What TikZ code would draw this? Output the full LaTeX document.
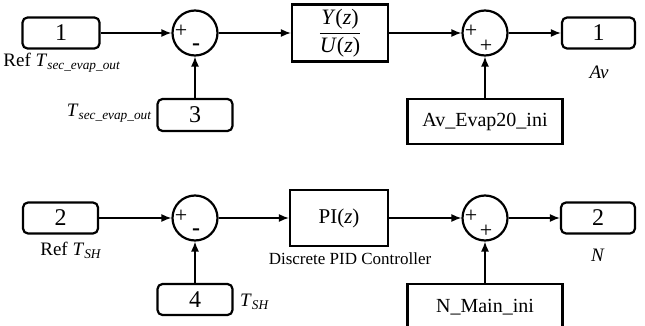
\documentclass[tikz,border=0pt]{standalone}
\usepackage{fontspec}
\setmainfont{Liberation Serif}
\usetikzlibrary{arrows.meta}
\begin{document}
\begin{tikzpicture}[x=1pt,y=-1pt,
 rbox/.style={draw,rounded corners=5pt,line width=2.2pt,inner sep=0pt,minimum width=75pt,minimum height=31pt,font=\fontsize{24}{24}\selectfont},
 sumc/.style={circle,draw,line width=2.2pt,inner sep=0pt,minimum size=45pt},
 blk/.style={draw,line width=2.2pt,inner sep=0pt},
 arr/.style={line width=1.4pt,-{Latex[length=10pt,width=8pt]}},
 lbl/.style={font=\fontsize{19}{19}\selectfont,inner sep=0pt},
 sgn/.style={font=\fontsize{22}{22}\selectfont,inner sep=0pt}]
\useasboundingbox (0,0) rectangle (645,326);
% top row
\node[rbox,minimum width=77pt] (in1) at (61,33) {1};
\node[sumc] (sum1) at (195,33) {};
\node[rbox,minimum height=32pt] (in3) at (195,115) {3};
\node[blk,minimum width=96pt,minimum height=57pt,font=\fontsize{22}{22}\selectfont] (tf) at (340,33)
  {$\displaystyle\frac{\mbox{\textit{Y}(\textit{z})}}{\mbox{\textit{U}(\textit{z})}}$};
\node[sumc] (sum2) at (485,33) {};
\node[rbox,minimum width=73pt] (out1) at (598.5,33) {1};
\node[blk,minimum width=155pt,minimum height=45pt,font=\fontsize{20}{20}\selectfont] (av) at (485,121.5) {Av\_Evap20\_ini};
% bottom row
\node[rbox] (in2) at (60.5,218) {2};
\node[sumc] (sum3) at (195,218) {};
\node[rbox] (in4) at (195,299.5) {4};
\node[blk,minimum width=98pt,minimum height=56pt,font=\fontsize{21}{21}\selectfont] (pi) at (339,218) {PI(\textit{z})};
\node[sumc] (sum4) at (485,218) {};
\node[rbox,minimum width=74pt] (out2) at (598,218) {2};
\node[blk,minimum width=155pt,minimum height=46pt,font=\fontsize{20}{20}\selectfont] (nm) at (485,307) {N\_Main\_ini};
% signs
\node[sgn] (s1a) at (181,31) {+};
\node[sgn,font=\fontsize{24}{24}\selectfont\bfseries] (s1b) at (196,47) {-};
\node[sgn] (s2a) at (471,31) {+};
\node[sgn] (s2b) at (486,46) {+};
\node[sgn] (s3a) at (181,216) {+};
\node[sgn,font=\fontsize{24}{24}\selectfont\bfseries] (s3b) at (196,232) {-};
\node[sgn] (s4a) at (471,216) {+};
\node[sgn] (s4b) at (486,231) {+};
% labels
\node[lbl] (l1) at (62,63) {Ref \textit{T}\textsubscript{\textit{sec\_evap\_out}}};
\node[lbl,anchor=east] (l3) at (152,113) {\textit{T}\textsubscript{\textit{sec\_evap\_out}}};
\node[lbl] (lav) at (599,72) {\textit{Av}};
\node[lbl] (l2) at (71,250) {Ref \textit{T}\textsubscript{\textit{SH}}};
\node[lbl,anchor=west] (l4) at (240,302) {\textit{T}\textsubscript{\textit{SH}}};
\node[lbl,font=\fontsize{17}{17}\selectfont] (lpid) at (350,259) {Discrete PID Controller};
\node[lbl] (ln) at (598,255) {\textit{N}};
% connectors
\draw[arr] (in1) -- (sum1);
\draw[arr] (in3) -- (sum1);
\draw[arr] (sum1) -- (tf);
\draw[arr] (tf) -- (sum2);
\draw[arr] (sum2) -- (out1);
\draw[arr] (av) -- (sum2);
\draw[arr] (in2) -- (sum3);
\draw[arr] (in4) -- (sum3);
\draw[arr] (sum3) -- (pi);
\draw[arr] (pi) -- (sum4);
\draw[arr] (sum4) -- (out2);
\draw[arr] (nm) -- (sum4);
\end{tikzpicture}
\end{document}
